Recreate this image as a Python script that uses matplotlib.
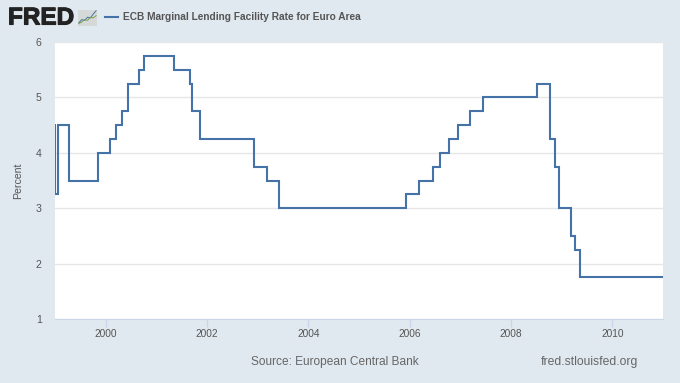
import matplotlib
matplotlib.use("Agg")
import matplotlib.pyplot as plt
import matplotlib.dates as mdates
import matplotlib.patheffects as pe
import pandas as pd

plt.rcParams["font.family"] = ["Liberation Sans", "DejaVu Sans"]

BG = "#e1e9f0"
BLUE = "#4572a7"
TXT = "#555555"

# dates where the rate changes
change_dates = ["1999-01-01", "1999-01-04", "1999-01-22", "1999-04-09", "1999-11-05",
                "2000-02-04", "2000-03-17", "2000-04-28", "2000-06-09", "2000-09-01",
                "2000-10-06", "2001-05-11", "2001-08-31", "2001-09-18", "2001-11-09",
                "2002-12-06", "2003-03-07", "2003-06-06", "2005-12-06", "2006-03-08",
                "2006-06-15", "2006-08-09", "2006-10-11", "2006-12-13", "2007-03-14",
                "2007-06-13", "2008-07-09", "2008-10-08", "2008-10-09", "2008-11-12",
                "2008-12-10", "2009-03-11", "2009-04-08", "2009-05-13", "2011-01-01"]
rates = [4.5, 3.25, 4.5, 3.5, 4.0,
         4.25, 4.5, 4.75, 5.25, 5.5,
         5.75, 5.5, 5.25, 4.75, 4.25,
         3.75, 3.5, 3.0, 3.25, 3.5,
         3.75, 4.0, 4.25, 4.5, 4.75,
         5.0, 5.25, 4.75, 4.25, 3.75,
         3.0, 2.5, 2.25, 1.75, 1.75]
y_ticks = [1, 2, 3, 4, 5, 6]
x_years = [2000, 2002, 2004, 2006, 2008, 2010]

# logo sparkline
logo_blue = [1, 3, 2.5, 4.5, 4, 6.5, 8.5]
logo_green = [0.5, 1.5, 3, 2.5, 4.5, 4, 5.5]

W, H = 680, 383
fig = plt.figure(figsize=(W / 100, H / 100), dpi=100, facecolor=BG)
ax = fig.add_axes([55 / W, 1 - 319 / H, 608 / W, 277 / H])

dates = pd.to_datetime(change_dates)
ax.step(dates, rates, where="post", color=BLUE, lw=1.5, solid_joinstyle="miter", zorder=3)

ax.set_xlim(pd.Timestamp("1999-01-01"), pd.Timestamp("2011-01-01"))
ax.set_ylim(1, 6)
ax.set_yticks(y_ticks)
ax.set_xticks([pd.Timestamp(f"{y}-01-01") for y in x_years])
ax.xaxis.set_major_formatter(mdates.DateFormatter("%Y"))
ax.grid(axis="y", color="#e6e6e6", lw=1)
ax.set_axisbelow(True)
for s in ["top", "left", "right"]:
    ax.spines[s].set_visible(False)
ax.spines["bottom"].set_color("#ccd6eb")
ax.tick_params(axis="x", length=6, width=1, color="#ccd6eb", labelsize=7.3, labelcolor=TXT, pad=1.5)
ax.tick_params(axis="y", length=0, labelsize=7.6, labelcolor=TXT, pad=9.5)
ax.set_ylabel("Percent", fontsize=7.6, color=TXT, labelpad=9.5)

# header
fig.text(8 / W, 1 - 18 / H, "FRED", fontsize=17.5, fontweight="bold", color="#222222", va="center", ha="left",
         path_effects=[pe.withStroke(linewidth=0.8, foreground="#222222")])
logo = fig.add_axes([78 / W, 1 - 26 / H, 19 / W, 16 / H], facecolor="#d5d9d8")
logo.plot(logo_blue, color="#4572a7", lw=0.7)
logo.plot(logo_green, color="#7f9f4a", lw=0.7)
logo.set_xticks([])
logo.set_yticks([])
logo.set_ylim(-1, 9)
for s in logo.spines.values():
    s.set_visible(False)
fig.add_artist(plt.Line2D([105 / W, 118 / W], [1 - 17 / H] * 2, color=BLUE, lw=1.5))
fig.text(123 / W, 1 - 17 / H, "ECB Marginal Lending Facility Rate for Euro Area", fontsize=7.3,
         fontweight="bold", color="#555555", va="center", ha="left")

# footer
fig.text(251 / W, 1 - 362 / H, "Source: European Central Bank", fontsize=8.6, color="#666666", va="center", ha="left")
fig.text(541 / W, 1 - 362 / H, "fred.stlouisfed.org", fontsize=8.7, color="#666666", va="center", ha="left")

fig.savefig("out.png", dpi=100, facecolor=BG)
